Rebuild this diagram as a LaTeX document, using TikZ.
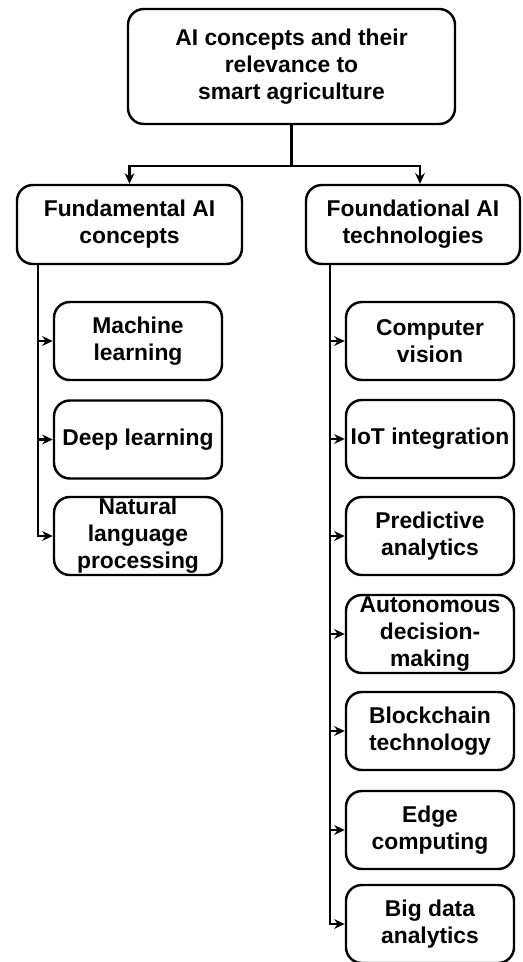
\documentclass[tikz,border=0pt]{standalone}
\usepackage{fontspec}
\setmainfont{Liberation Sans}
\usetikzlibrary{arrows.meta}

\begin{document}
\begin{tikzpicture}[
	box/.style={draw, line width=1.4pt, rounded corners=9pt, align=center, inner sep=0pt,
		font=\fontsize{13}{15.3}\selectfont\bfseries},
	leaf/.style={box, minimum width=3.36cm, minimum height=1.56cm},
	arr/.style={-{Stealth[length=6pt,width=5.5pt]}, line width=1.6pt}
	]
	\useasboundingbox (0,0) rectangle (10.44,-19.24);
	% top
	\node[box, minimum width=6.54cm, minimum height=2.3cm] (root) at (5.83,-1.33) {AI concepts and their\\relevance to\\smart agriculture};
	\node[box, minimum width=4.5cm, minimum height=1.58cm] (fund) at (2.59,-4.49) {Fundamental AI\\concepts};
	\node[box, minimum width=4.28cm, minimum height=1.58cm] (found) at (8.26,-4.49) {Foundational AI\\technologies};
	\coordinate (split) at (5.83,-3.32);
	\draw[line width=1.6pt] (root.south) -- (split);
	\draw[arr] (split) -| (fund.north);
	\draw[arr] (split) -| ([xshift=0.14cm]found.north);
	% left column
	\node[leaf] (ml) at (2.76,-6.82) {Machine\\learning};
	\node[leaf] (dl) at (2.76,-8.79) {Deep learning};
	\node[leaf] (nlp) at (2.76,-10.72) {Natural\\language\\processing};
	\coordinate (ltrunk) at (0.76,0);
	\draw[arr] (ltrunk |- fund.south) |- (nlp.west);
	\draw[arr] (ltrunk |- ml.west) -- (ml.west);
	\draw[arr] (ltrunk |- dl.west) -- (dl.west);
	% right column
	\node[leaf] (cv) at (8.6,-6.82) {Computer\\vision};
	\node[leaf] (iot) at (8.6,-8.78) {IoT integration};
	\node[leaf] (pa) at (8.6,-10.72) {Predictive\\analytics};
	\node[leaf] (adm) at (8.6,-12.68) {Autonomous\\decision-\\making};
	\node[leaf] (bct) at (8.6,-14.62) {Blockchain\\technology};
	\node[leaf] (ec) at (8.6,-16.6) {Edge\\computing};
	\node[leaf] (bda) at (8.6,-18.48) {Big data\\analytics};
	\coordinate (rtrunk) at (6.6,0);
	\draw[arr] (rtrunk |- found.south) |- (bda.west);
	\draw[arr] (rtrunk |- cv.west) -- (cv.west);
	\draw[arr] (rtrunk |- iot.west) -- (iot.west);
	\draw[arr] (rtrunk |- pa.west) -- (pa.west);
	\draw[arr] (rtrunk |- adm.west) -- (adm.west);
	\draw[arr] (rtrunk |- bct.west) -- (bct.west);
	\draw[arr] (rtrunk |- ec.west) -- (ec.west);
\end{tikzpicture}
\end{document}
